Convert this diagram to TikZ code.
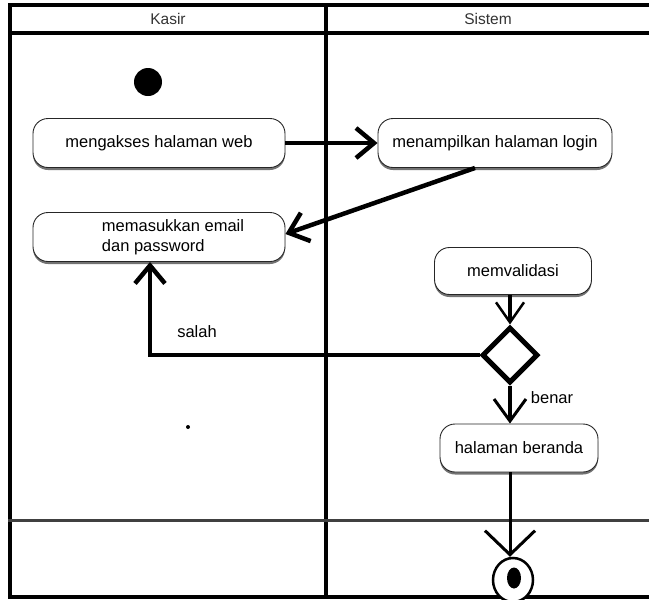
\documentclass[tikz,border=0pt]{standalone}
\usepackage{fontspec}
\setmainfont{Liberation Sans}
\usetikzlibrary{positioning}
\usetikzlibrary{shapes.geometric}
\usetikzlibrary{arrows.meta}
\usetikzlibrary{shadows}

\begin{document}
\begin{tikzpicture}
    [x=1pt, y=-1pt,
     laneLine/.style={line width=4.5pt},
     laneLabel/.style={text=black!80, font=\fontsize{15.5}{17}\selectfont},
     actionBox/.style={rectangle, rounded corners=15pt, draw=black!85, line width=0.9pt, fill=white,
        minimum width=252pt, minimum height=49pt, inner sep=2pt, font=\fontsize{16.5}{20}\selectfont,
        drop shadow={shadow xshift=0pt, shadow yshift=-2.5pt, fill=black!55, opacity=1}},
     flowLabel/.style={font=\fontsize{16.5}{20}\selectfont, inner sep=1pt},
     flowArrow/.style={line width=4.5pt, -{Straight Barb[length=18pt, width=30pt]}},
     thinArrow/.style={line width=3pt, -{Straight Barb[length=24pt, width=50pt]}},
     decision/.style={diamond, draw=black, fill=white, line width=5pt, inner sep=0pt, minimum size=56pt},
    ]

    \useasboundingbox (0,0) rectangle (649,600);

    % swimlanes
    \draw[laneLine] (8,5) -- (652,5);
    \draw[laneLine] (8,33) -- (652,33);
    \draw[laneLine] (10,3) -- (10,599);
    \draw[laneLine] (326,3) -- (326,599);
    \draw[laneLine] (8,597) -- (652,597);
    \draw[line width=3pt, black!75] (8,520) -- (652,520);
    \node[laneLabel] (kasirLabel) at (168,19) {Kasir};
    \node[laneLabel] (sistemLabel) at (488,19) {Sistem};

    % activities
    \node[circle, fill=black, inner sep=0pt, minimum size=28pt] (startDot) at (148,82) {};
    \node[actionBox] (aksesWeb) at (159,143) {mengakses halaman web};
    \node[actionBox, minimum width=234pt] (tampilLogin) at (495,143) {menampilkan halaman login};
    \node[actionBox, align=left] (isiLogin) at (159,237)
        {\hspace*{28pt}memasukkan email\\\hspace*{28pt}dan password};
    \node[actionBox, minimum width=157pt, minimum height=47pt] (validasi) at (513,271) {memvalidasi};
    \node[decision] (cekLogin) at (510,355) {};
    \node[actionBox, minimum width=158pt, minimum height=48pt] (beranda) at (519,448) {halaman beranda};
    \node[ellipse, draw=black, line width=2.5pt, fill=white, minimum width=40pt, minimum height=44pt] (endOuter) at (513,580) {};
    \node[ellipse, fill=black, inner sep=0pt, minimum width=14pt, minimum height=21pt] (endDot) at (514,578) {};
    \node[circle, fill=black, inner sep=0pt, minimum size=4pt] (strayDot) at (188,427) {};

    % flows
    \draw[flowArrow] (aksesWeb.east) -- (tampilLogin.west);
    \draw[flowArrow] ([xshift=-20pt]tampilLogin.south) -- ([yshift=3pt]isiLogin.east);
    \draw[line width=4.5pt, -{Straight Barb[length=20pt, width=28pt, line width=2.5pt]}] ([xshift=-3pt]validasi.south) -- (cekLogin.north);
    \draw[flowArrow] (cekLogin.west) -| ([xshift=-9pt]isiLogin.south);
    \draw[line width=4.5pt, -{Straight Barb[length=22pt, width=32pt, line width=3pt]}] (cekLogin.south) -- ([xshift=-9pt]beranda.north);
    \draw[thinArrow] ([xshift=-9pt]beranda.south) -- ([xshift=-3pt]endOuter.north);
    \node[flowLabel] (salahLabel) at (197,332) {salah};
    \node[flowLabel] (benarLabel) at (552,398) {benar};

\end{tikzpicture}
\end{document}
